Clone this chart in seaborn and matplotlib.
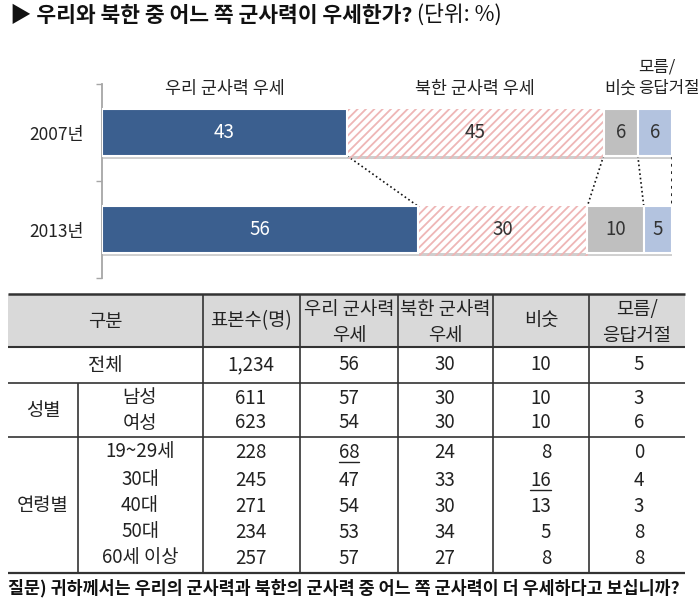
import numpy as np
import matplotlib
matplotlib.use('Agg')
import matplotlib.pyplot as plt
import matplotlib.patheffects as pe
import seaborn as sns

# chart data (unit: %)
years = ['2007년', '2013년']
categories = ['우리 군사력 우세', '북한 군사력 우세', '비숫', '모름/\n응답거절']
our_stronger = [43, 56]
north_stronger = [45, 30]
similar = [6, 10]
dont_know = [6, 5]

# table data
header = ['구분', '표본수(명)', '우리 군사력\n우세', '북한 군사력\n우세', '비숫', '모름/\n응답거절']
row_labels = ['전체', '남성', '여성', '19~29세', '30대', '40대', '50대', '60세 이상']
group_labels = ['성별', '연령별']
sample_n = ['1,234', '611', '623', '228', '245', '271', '234', '257']
tab_ours = [56, 57, 54, 68, 47, 54, 53, 57]
tab_north = [30, 30, 30, 24, 33, 30, 34, 27]
tab_similar = [10, 10, 10, 8, 16, 13, 5, 8]
tab_unknown = [5, 3, 6, 0, 4, 3, 8, 8]
underlined = [(3, 2), (4, 4)]  # (row, column) cells with underline

title = '▶ 우리와 북한 중 어느 쪽 군사력이 우세한가?'
unit = ' (단위: %)'
footer = '질문) 귀하께서는 우리의 군사력과 북한의 군사력 중 어느 쪽 군사력이 더 우세하다고 보십니까?'

BLUE = '#3b5f8f'
PINK = '#eeb6b6'
GRAY = '#bfbfbf'
LIGHT = '#b3c3df'
DARK = '#222222'

sns.set_theme(style='white')
plt.rcParams['font.family'] = ['Noto Sans CJK KR', 'DejaVu Sans']
plt.rcParams['hatch.linewidth'] = 1.3
plt.rcParams['hatch.color'] = PINK

fig = plt.figure(figsize=(7, 6), dpi=100)

# pixel-unit overlay for title, table and footer
tab = fig.add_axes([0, 0, 1, 1])
tab.set_xlim(0, 700)
tab.set_ylim(600, 0)
tab.axis('off')

ax = fig.add_axes([102 / 700, 1 - 278 / 600, 570 / 700, 194 / 600])

vals = np.array([our_stronger, north_stronger, similar, dont_know], dtype=float).T
shares = vals / vals.sum(axis=1, keepdims=True) * 100
lefts = np.cumsum(shares, axis=1) - shares
ends = lefts + shares

bar_h = 0.48
shadow = [pe.SimplePatchShadow(offset=(0.5, -2.5), shadow_rgbFace='#888888', alpha=0.4), pe.Normal()]
seg_styles = [
    dict(color=BLUE, edgecolor='white', linewidth=1.5, zorder=3),
    dict(color='white', facecolor='white', edgecolor=PINK, hatch='////', linewidth=0, zorder=2),
    dict(color=GRAY, edgecolor='white', linewidth=1.5, zorder=3),
    dict(color=LIGHT, edgecolor='white', linewidth=1.5, zorder=3),
]
label_colors = ['white', '#333333', '#333333', '#333333']

for i in range(len(categories)):
    st = dict(seg_styles[i])
    c = st.pop('color')
    sns.barplot(x=shares[:, i], y=years, left=lefts[:, i], color=c, saturation=1,
                width=bar_h, errorbar=None, orient='y', ax=ax, path_effects=shadow, **st)
    ax.bar_label(ax.containers[-1], labels=[str(int(v)) for v in vals[:, i]],
                 label_type='center', color=label_colors[i], fontsize=13.5)

# dotted connectors between the two bars
for k in range(len(categories)):
    ax.plot([ends[0, k], ends[1, k]], [bar_h / 2, 1 - bar_h / 2], ls=':', color='#111111',
            lw=1.2 if k < len(categories) - 1 else 2.0, zorder=1)

# category names above the 2007 bar (last one starts at its segment's left edge)
for i, cat in enumerate(categories):
    last = i == len(categories) - 1
    xpos = lefts[0, i] if last else lefts[0, i] + shares[0, i] / 2
    for j, line in enumerate(reversed(cat.split('\n'))):
        ax.text(xpos, -0.45 - j * 0.225, line, ha='left' if last else 'center', va='center',
                fontsize=12 if last else 12.5, color=DARK, clip_on=False)

ax.set_xlim(0, 100)
ax.set_ylim(1.5, -0.5)
ax.set_xlabel('')
ax.set_ylabel('')
ax.set_xticks([])
for s in ['top', 'right', 'bottom']:
    ax.spines[s].set_visible(False)
ax.spines['left'].set_color('#a6a6a6')
ax.spines['left'].set_linewidth(1.3)
ax.set_yticks([-0.5, 0.5, 1.5], minor=True)
ax.tick_params(axis='y', which='minor', left=True, length=4, width=1, color='#a6a6a6', direction='out')
ax.tick_params(axis='y', which='major', length=0, pad=13, labelsize=12.5, labelcolor=DARK)

# title
t1 = tab.text(10, 15, title, ha='left', va='center', fontsize=15.5, fontweight='bold', color='#111111')
tab.annotate(unit, xy=(1, 0), xycoords=t1, ha='left', va='bottom', fontsize=15.5, color='#111111')

# table layout (pixels)
X0, X1 = 8, 685
col_edges = [203, 300, 398, 493, 589]
sub_edge = 78
y_top, y_head, y_total, y_sex, y_bottom = 294, 347, 383, 437, 573
head_x = [105, 251, 349, 445, 541, 637]
head_y = 321
row_y = [365, 398, 423, 452, 480, 506, 532, 558]
col_x = [251, 349, 445, 551, 639]
col_ha = ['center', 'center', 'center', 'right', 'center']
fs = 13.5

tab.fill_between([X0, X1], y_top, y_head, color='#d9d9d9', lw=0)
tab.hlines([y_top, y_head, y_total, y_sex, y_bottom], X0, X1, colors='#333333',
           linewidths=[1.8, 1.5, 1.2, 1.2, 1.6])
tab.vlines(col_edges, y_top, y_bottom, colors='#333333', linewidths=1.2)
tab.vlines(sub_edge, y_total, y_bottom, colors='#333333', linewidths=1.2)

for x, h in zip(head_x, header):
    lines = h.split('\n')
    if len(lines) == 1:
        tab.text(x, head_y, h, ha='center', va='center', fontsize=fs, color=DARK)
    else:
        for j, line in enumerate(lines):
            tab.text(x, head_y - 11 + j * 25, line, ha='center', va='center', fontsize=fs, color=DARK)

tab.text(105, row_y[0], row_labels[0], ha='center', va='center', fontsize=fs, color=DARK)
for r in range(1, len(row_labels)):
    tab.text(140, row_y[r], row_labels[r], ha='center', va='center', fontsize=fs, color=DARK)
tab.text(43, np.mean(row_y[1:3]), group_labels[0], ha='center', va='center', fontsize=fs, color=DARK)
tab.text(43, np.mean(row_y[3:]), group_labels[1], ha='center', va='center', fontsize=fs, color=DARK)

cells = {}
columns = [sample_n, tab_ours, tab_north, tab_similar, tab_unknown]
for c, col in enumerate(columns):
    for r, v in enumerate(col):
        cells[(r, c + 1)] = tab.text(col_x[c], row_y[r], str(v), ha=col_ha[c], va='center',
                                     fontsize=fs, color=DARK)

tab.text(8, 588, footer, ha='left', va='center', fontsize=12.5, fontweight='bold', color='#111111')

fig.canvas.draw()
inv = tab.transData.inverted()
for (r, c) in underlined:
    bb = cells[(r, c)].get_window_extent()
    xa, _ = inv.transform((bb.x0, bb.y0))
    xb, _ = inv.transform((bb.x1, bb.y0))
    tab.plot([xa, xb], [row_y[r] + 10, row_y[r] + 10], color=DARK, lw=1)

fig.savefig('out.png', dpi=100)
